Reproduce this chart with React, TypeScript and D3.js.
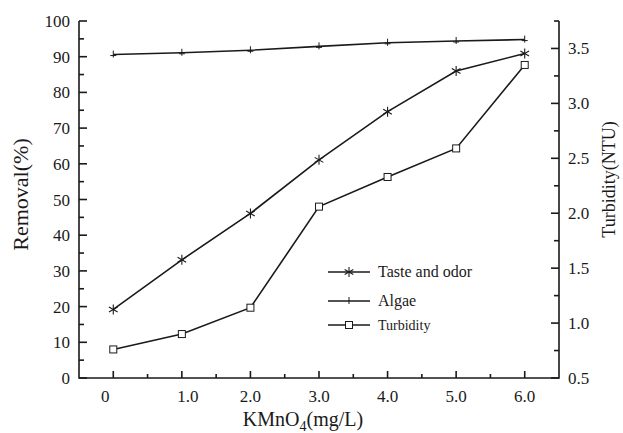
import React, { useEffect } from 'react';
import * as d3 from 'd3';

// KMnO4 dose (mg/L)
const doses = [0, 1, 2, 3, 4, 5, 6];
const tasteOdor = [19.2, 33.1, 46.1, 61.1, 74.6, 86.0, 90.9];
const algae = [90.6, 91.1, 91.8, 92.9, 93.9, 94.4, 94.8];
const turbidity = [0.76, 0.9, 1.14, 2.06, 2.33, 2.59, 3.35];

const xTicks = [0, 1, 2, 3, 4, 5, 6];
const xTickLabels = ['0', '1.0', '2.0', '3.0', '4.0', '5.0', '6.0'];
const leftTicks = [0, 10, 20, 30, 40, 50, 60, 70, 80, 90, 100];
const rightTicks = [0.5, 1.0, 1.5, 2.0, 2.5, 3.0, 3.5];

const W = 623;
const H = 433;
const left = 79, right = 559, top = 21, bottom = 378;
const ink = '#1a1a1a';
const font = '"Liberation Serif", "Times New Roman", serif';

const Asterisk = ({ x, y }: { x: number; y: number }) => {
  const r = 5;
  const angles = [90, 30, 150];
  return (
    <g stroke={ink} strokeWidth={1.1}>
      {angles.map(a => {
        const dx = r * Math.cos((a * Math.PI) / 180);
        const dy = r * Math.sin((a * Math.PI) / 180);
        return <line key={a} x1={x - dx} y1={y - dy} x2={x + dx} y2={y + dy} />;
      })}
    </g>
  );
};

const App = () => {
  useEffect(() => {
    document.body.style.margin = '0';
  }, []);

  const x = d3.scaleLinear().domain([-0.5, 6.5]).range([left, right]);
  const yL = d3.scaleLinear().domain([0, 100]).range([bottom, top]);
  const yR = d3.scaleLinear().domain([0.5, 3.75]).range([bottom, top]);

  const lineL = d3.line<number>().x((_, i) => x(doses[i])).y(d => yL(d));
  const lineR = d3.line<number>().x((_, i) => x(doses[i])).y(d => yR(d));

  const xMinor = d3.range(0.5, 6.5, 1);
  const leftMinor = d3.range(5, 100, 10);
  const rightMinor = d3.range(0.75, 3.8, 0.5);

  return (
    <svg width={W} height={H} style={{ display: 'block', background: '#fff' }} fontFamily={font}>
      {/* axes */}
      <g stroke={ink} strokeWidth={1.6} fill="none">
        <path d={`M${left},${top}V${bottom}H${right}V${top}`} />
        {xTicks.map(t => <line key={'xt' + t} x1={x(t)} x2={x(t)} y1={bottom} y2={bottom - 7} />)}
        {xMinor.map(t => <line key={'xm' + t} x1={x(t)} x2={x(t)} y1={bottom} y2={bottom - 4} />)}
        {leftTicks.map(t => <line key={'lt' + t} x1={left} x2={left + 8} y1={yL(t)} y2={yL(t)} />)}
        {leftMinor.map(t => <line key={'lm' + t} x1={left} x2={left + 5} y1={yL(t)} y2={yL(t)} />)}
        {rightTicks.map(t => <line key={'rt' + t} x1={right} x2={right - 8} y1={yR(t)} y2={yR(t)} />)}
        {rightMinor.map(t => <line key={'rm' + t} x1={right} x2={right - 5} y1={yR(t)} y2={yR(t)} />)}
      </g>

      {/* tick labels */}
      <g fill={ink} fontSize={17}>
        {xTicks.map((t, i) => (
          <text key={'xl' + t} x={x(t) + (i === 0 ? -8 : i === 1 ? 6 : 0)} y={bottom + 24} textAnchor="middle">{xTickLabels[i]}</text>
        ))}
        {leftTicks.map(t => (
          <text key={'ll' + t} x={left - 9} y={yL(t) + 6} textAnchor="end">{t}</text>
        ))}
        {rightTicks.map(t => (
          <text key={'rl' + t} x={right + 9} y={yR(t) + 6} textAnchor="start">{t.toFixed(1)}</text>
        ))}
      </g>

      {/* axis titles */}
      <text x={303} y={426} textAnchor="middle" fontSize={20} fill={ink}>
        KMnO<tspan fontSize={14} dy={5}>4</tspan><tspan dy={-5}>(mg/L)</tspan>
      </text>
      <text transform={`translate(28,${(top + bottom) / 2 - 5}) rotate(-90)`} textAnchor="middle" fontSize={22} fill={ink}>
        Removal(%)
      </text>
      <text transform={`translate(615,${(top + bottom) / 2 - 20}) rotate(-90)`} textAnchor="middle" fontSize={18} fill={ink}>
        Turbidity(NTU)
      </text>

      {/* series */}
      <g fill="none" stroke={ink} strokeWidth={1.6}>
        <path d={lineL(algae) || ''} />
        <path d={lineL(tasteOdor) || ''} />
        <path d={lineR(turbidity) || ''} />
      </g>
      {algae.map((v, i) => (
        <g key={'a' + i} stroke={ink} strokeWidth={1}>
          <line x1={x(doses[i])} x2={x(doses[i])} y1={yL(v) - 4} y2={yL(v) + 3} />
          <line x1={x(doses[i]) - 3} x2={x(doses[i]) + 3} y1={yL(v) + 1} y2={yL(v) + 1} />
        </g>
      ))}
      {tasteOdor.map((v, i) => <Asterisk key={'t' + i} x={x(doses[i])} y={yL(v)} />)}
      {turbidity.map((v, i) => (
        <rect key={'b' + i} x={x(doses[i]) - 3.5} y={yR(v) - 3.5} width={7} height={7} fill="#fff" stroke={ink} strokeWidth={1} />
      ))}

      {/* legend */}
      <g>
        <line x1={328} x2={370} y1={272} y2={272} stroke={ink} strokeWidth={1.6} />
        <Asterisk x={349} y={272} />
        <text x={378} y={277} fontSize={16} fill={ink}>Taste and odor</text>
        <line x1={328} x2={370} y1={301} y2={301} stroke={ink} strokeWidth={1.6} />
        <line x1={349} x2={349} y1={297} y2={304} stroke={ink} strokeWidth={1} />
        <text x={378} y={306} fontSize={16} fill={ink}>Algae</text>
        <line x1={328} x2={370} y1={325} y2={325} stroke={ink} strokeWidth={1.6} />
        <rect x={345.5} y={321.5} width={7} height={7} fill="#fff" stroke={ink} strokeWidth={1} />
        <text x={378} y={330} fontSize={14} fill={ink}>Turbidity</text>
      </g>
    </svg>
  );
};

export default App;
